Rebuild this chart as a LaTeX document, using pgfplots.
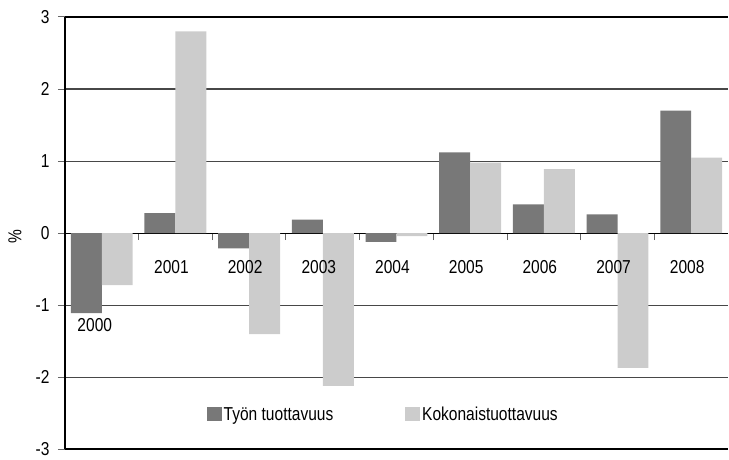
\documentclass[border=0pt]{standalone}
\usepackage{pgfplots}
\pgfplotsset{compat=1.18}
\usepackage{fontspec}
\setmainfont{Liberation Sans}[FakeStretch=0.83]
\definecolor{dark}{HTML}{787878}
\definecolor{light}{HTML}{CCCCCC}
\begin{document}
\begin{tikzpicture}[font=\fontsize{18.8}{22}\selectfont]
\begin{axis}[
 scale only axis, width=664bp, height=433bp,
 xmin=-0.5, xmax=8.5, ymin=-3, ymax=3,
 ybar=0pt, bar width=31bp,
 axis y line*=left, axis x line*=middle,
 ytick={-3,...,3},
 xtick={0.5,1.5,...,7.5}, xticklabels={},
 ymajorgrids, major grid style={line width=1.2bp, color=black!72},
 extra y ticks={-3,3}, extra y tick labels={},
 extra y tick style={major grid style={black,line width=1.9bp}, major tick length=0pt},
 y axis line style={line width=1.5bp, black},
 x axis line style={line width=1.3bp, black},
 tick style={black!60, line width=1bp},
 major tick length=7bp,
 ytick align=outside, xtick align=outside,
 yticklabel style={/pgf/number format/assume math mode=true, xshift=-5bp},
 ylabel={\%},
 ylabel style={at={(rel axis cs:0,0.492)}, anchor=center, rotate=0, yshift=50bp},
 legend style={at={(0.48,0.081)}, anchor=center, draw=none, fill=none,
   legend columns=2, /tikz/every even column/.append style={column sep=70bp}},
 legend image code/.code={\fill[#1,draw=none] (0bp,-7bp) rectangle (15bp,7bp);},
 clip=false,
]
\addplot[fill=dark, draw=none] coordinates {(0,-1.11) (1,0.28) (2,-0.21) (3,0.19) (4,-0.12) (5,1.12) (6,0.40) (7,0.26) (8,1.70)};
\addplot[fill=light, draw=none] coordinates {(0,-0.72) (1,2.80) (2,-1.40) (3,-2.12) (4,-0.04) (5,0.98) (6,0.89) (7,-1.87) (8,1.05)};
\legend{Työn tuottavuus, Kokonaistuottavuus}
\node[anchor=base, xshift=-7bp, yshift=-98bp] at (axis cs:0,0) {2000};
\node[anchor=base, xshift=-4bp, yshift=-40bp] at (axis cs:1,0) {2001};
\node[anchor=base, xshift=-4bp, yshift=-40bp] at (axis cs:2,0) {2002};
\node[anchor=base, xshift=-4bp, yshift=-40bp] at (axis cs:3,0) {2003};
\node[anchor=base, xshift=-4bp, yshift=-40bp] at (axis cs:4,0) {2004};
\node[anchor=base, xshift=-4bp, yshift=-40bp] at (axis cs:5,0) {2005};
\node[anchor=base, xshift=-4bp, yshift=-40bp] at (axis cs:6,0) {2006};
\node[anchor=base, xshift=-4bp, yshift=-40bp] at (axis cs:7,0) {2007};
\node[anchor=base, xshift=-4bp, yshift=-40bp] at (axis cs:8,0) {2008};
\coordinate (sw) at (rel axis cs:0,0);
\coordinate (ne) at (rel axis cs:1,1);
\end{axis}
\useasboundingbox ([xshift=-65bp,yshift=-7bp]sw) rectangle ([yshift=17bp]ne);
\end{tikzpicture}
\end{document}
